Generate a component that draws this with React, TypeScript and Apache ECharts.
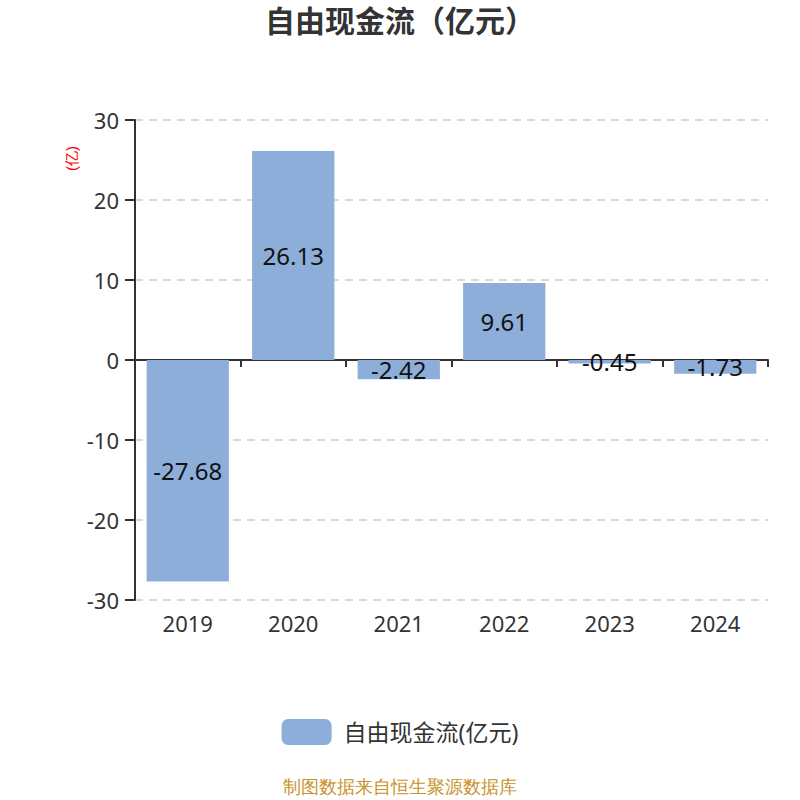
import React, { useEffect, useRef } from "react";
import * as echarts from "echarts";

const years = ["2019", "2020", "2021", "2022", "2023", "2024"];
const freeCashFlow = [-27.68, 26.13, -2.42, 9.61, -0.45, -1.73];
const seriesName = "自由现金流(亿元)";

const App = () => {
  const chartRef = useRef<HTMLDivElement>(null);

  useEffect(() => {
    const chart = echarts.init(chartRef.current, null, { renderer: "svg" });

    const option = {
      animation: false,
      textStyle: { fontFamily: "'Noto Sans', 'Noto Sans CJK SC', sans-serif" },
      title: {
        text: "自由现金流（亿元）",
        left: "center",
        top: 0,
        textStyle: { fontSize: 30, fontWeight: "bold", color: "#333" },
      },
      grid: { left: 135, right: 32, top: 120, bottom: 200 },
      legend: {
        bottom: 50,
        left: "center",
        itemWidth: 50,
        itemHeight: 26,
        icon: "roundRect",
        textStyle: { fontSize: 23, color: "#333", padding: [0, 0, 0, 7] },
        data: [seriesName],
      },
      xAxis: [
        {
          type: "category",
          data: years,
          axisLine: { onZero: true, lineStyle: { color: "#333", width: 2 } },
          axisTick: { show: true, length: 7, lineStyle: { color: "#333", width: 2 } },
          axisLabel: { show: false },
        },
        {
          type: "category",
          data: years,
          position: "bottom",
          axisLine: { show: false },
          axisTick: { show: false },
          axisLabel: { fontSize: 22, color: "#333", margin: 12 },
        },
      ],
      yAxis: {
        type: "value",
        min: -30,
        max: 30,
        interval: 10,
        axisLine: { show: true, lineStyle: { color: "#333", width: 2 } },
        axisTick: { show: true, length: 10, lineStyle: { color: "#333", width: 2 } },
        axisLabel: { fontSize: 22, color: "#333", margin: 16 },
        splitLine: { lineStyle: { color: "#ccc", type: [8, 6], width: 1.5 } },
      },
      graphic: [
        {
          type: "text",
          x: 64,
          y: 171,
          rotation: Math.PI / 2,
          style: { text: "(亿)", fill: "#ff0000", fontSize: 15 },
        },
        {
          type: "text",
          left: "center",
          top: 778,
          style: { text: "制图数据来自恒生聚源数据库", fill: "#c8922a", fontSize: 18 },
        },
      ],
      series: [
        {
          name: seriesName,
          type: "bar",
          data: freeCashFlow,
          barWidth: "78%",
          itemStyle: { color: "#8eaeda" },
          label: {
            show: true,
            position: "inside",
            fontSize: 24,
            color: "#111",
          },
        },
      ],
    };

    chart.setOption(option);
    return () => {
      chart.dispose();
    };
  }, []);

  return (
    <div
      ref={chartRef}
      style={{ position: "absolute", left: 0, top: 0, width: "800px", height: "800px" }}
    />
  );
};

export default App;
